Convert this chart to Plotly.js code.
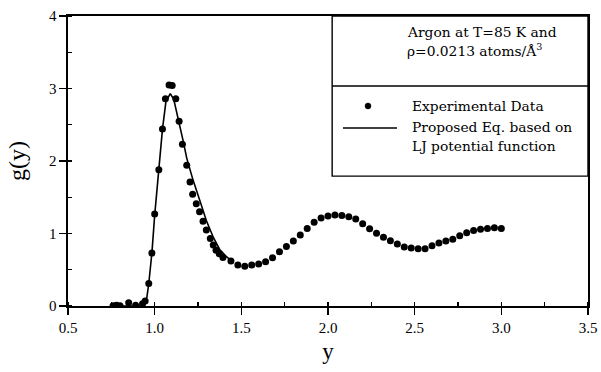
<!DOCTYPE html>
<html>
<head>
<meta charset="utf-8">
<script src="https://cdn.plot.ly/plotly-3.0.1.min.js"></script>
<style>html,body{margin:0;padding:0;background:#fff;}#chart{width:601px;height:372px;}</style>
</head>
<body>
<div id="chart"></div>
<script>
const expX = [0.76, 0.78, 0.80, 0.85, 0.89, 0.93, 0.945, 0.966, 0.984, 1.00, 1.024, 1.045, 1.062, 1.083, 1.101, 1.122, 1.141, 1.160, 1.185, 1.204, 1.219, 1.240, 1.259, 1.279, 1.298, 1.321, 1.338, 1.354, 1.373, 1.394,
  1.44, 1.48, 1.52, 1.56, 1.60, 1.64, 1.68, 1.72, 1.76, 1.80, 1.84, 1.88, 1.92, 1.96, 2.00, 2.04, 2.08, 2.12, 2.16, 2.20,
  2.24, 2.28, 2.32, 2.36, 2.40, 2.44, 2.48, 2.52, 2.56, 2.60, 2.64, 2.68, 2.72, 2.76, 2.80, 2.84, 2.88, 2.92, 2.96, 3.00];
const expG = [0.005, 0.01, 0.005, 0.045, 0.01, 0.03, 0.07, 0.31, 0.73, 1.27, 1.88, 2.44, 2.86, 3.05, 3.04, 2.86, 2.55, 2.23, 1.94, 1.71, 1.54, 1.41, 1.30, 1.17, 1.05, 0.93, 0.84, 0.77, 0.72, 0.67,
  0.62, 0.565, 0.55, 0.565, 0.58, 0.61, 0.665, 0.75, 0.82, 0.895, 0.98, 1.07, 1.155, 1.215, 1.24, 1.255, 1.25, 1.23, 1.20, 1.135,
  1.065, 1.005, 0.95, 0.90, 0.855, 0.815, 0.80, 0.79, 0.79, 0.83, 0.87, 0.895, 0.92, 0.97, 1.01, 1.04, 1.06, 1.07, 1.08, 1.07];

// Proposed equation (LJ potential) curve
const eqX = [0.75, 0.92, 0.94, 0.955, 0.966, 0.984, 1.00, 1.022, 1.045, 1.065, 1.09, 1.11, 1.13, 1.145, 1.165, 1.185, 1.221, 1.26, 1.298, 1.337, 1.375, 1.414, 1.452];
const eqG = [0.0, 0.0, 0.03, 0.12, 0.31, 0.73, 1.25, 1.88, 2.44, 2.82, 2.93, 2.85, 2.65, 2.50, 2.27, 2.04, 1.74, 1.46, 1.18, 0.955, 0.78, 0.68, 0.61];

const xTicks = [0.5, 1.0, 1.5, 2.0, 2.5, 3.0, 3.5];
const xTickText = ["0.5", "1.0", "1.5", "2.0", "2.5", "3.0", "3.5"];
const yTicks = [0, 1, 2, 3, 4];
const yTickText = ["0", "1", "2", "3", "4"];

const legendTitle1 = "Argon at T=85 K and";
const legendTitle2 = "ρ=0.0213 atoms/Å<sup>3</sup>";
const legendItem1 = "Experimental Data";
const legendItem2a = "Proposed Eq. based on";
const legendItem2b = "LJ potential function";

const serif = "Liberation Serif, Times New Roman, serif";
const legFont = {family: "DejaVu Serif, serif", size: 13.8, color: "#000"};

const traces = [
  {x: eqX, y: eqG, mode: "lines", line: {color: "#000", width: 1.6}, name: "Proposed Eq.", showlegend: false, hoverinfo: "skip"},
  {x: expX, y: expG, mode: "markers", marker: {color: "#000", size: 7}, name: "Experimental Data", showlegend: false}
];

// legend box in paper coordinates
const bx0 = 0.508, bx1 = 1.0, by0 = 0.448, byDiv = 0.7586, by1 = 1.0;
const layout = {
  width: 601, height: 372,
  margin: {l: 68, r: 13, t: 16, b: 66},
  paper_bgcolor: "#fff", plot_bgcolor: "#fff",
  showlegend: false,
  font: {family: serif, color: "#000"},
  xaxis: {
    range: [0.5, 3.5], tickvals: xTicks, ticktext: xTickText,
    showgrid: false, zeroline: false, showline: true, mirror: true, linecolor: "#000", linewidth: 1.6,
    ticks: "outside", ticklen: 7, tickwidth: 1.4, tickcolor: "#000",
    tickfont: {family: serif, size: 15, color: "#000"},
    minor: {dtick: 0.25, tick0: 0.5, ticks: "inside", ticklen: 4, tickwidth: 1.2, tickcolor: "#000", showgrid: false},
    title: {text: "y", font: {family: serif, size: 23, color: "#000"}, standoff: 8}
  },
  yaxis: {
    range: [0, 4], tickvals: yTicks, ticktext: yTickText,
    showgrid: false, zeroline: false, showline: true, mirror: true, linecolor: "#000", linewidth: 1.6,
    ticks: "outside", ticklen: 7, tickwidth: 1.4, tickcolor: "#000",
    tickfont: {family: serif, size: 15, color: "#000"},
    minor: {dtick: 0.5, tick0: 0, ticks: "inside", ticklen: 4, tickwidth: 1.2, tickcolor: "#000", showgrid: false},
    title: {text: "g(y)", font: {family: serif, size: 24, color: "#000"}, standoff: 16}
  },
  shapes: [
    {type: "rect", xref: "paper", yref: "paper", x0: bx0, x1: bx1, y0: by0, y1: by1, line: {color: "#000", width: 1.4}, fillcolor: "rgba(0,0,0,0)"},
    {type: "line", xref: "paper", yref: "paper", x0: bx0, x1: bx1, y0: byDiv, y1: byDiv, line: {color: "#000", width: 1.4}},
    {type: "line", xref: "paper", yref: "paper", x0: (343 - 68) / 520, x1: (397 - 68) / 520, y0: (306 - 128) / 290, y1: (306 - 128) / 290, line: {color: "#000", width: 1.6}},
    {type: "circle", xref: "paper", yref: "paper", x0: (368 - 68 - 3) / 520, x1: (368 - 68 + 3) / 520, y0: (306 - 106 - 3) / 290, y1: (306 - 106 + 3) / 290, line: {color: "#000", width: 0.5}, fillcolor: "#000"}
  ],
  annotations: [
    {text: legendTitle1, xref: "paper", yref: "paper", x: (405 - 68) / 520, y: (306 - 32) / 290, xanchor: "left", yanchor: "middle", showarrow: false, font: legFont},
    {text: legendTitle2, xref: "paper", yref: "paper", x: (405 - 68) / 520, y: (306 - 50) / 290, xanchor: "left", yanchor: "middle", showarrow: false, font: legFont},
    {text: legendItem1, xref: "paper", yref: "paper", x: (410 - 68) / 520, y: (306 - 106) / 290, xanchor: "left", yanchor: "middle", showarrow: false, font: legFont},
    {text: legendItem2a, xref: "paper", yref: "paper", x: (410 - 68) / 520, y: (306 - 127) / 290, xanchor: "left", yanchor: "middle", showarrow: false, font: legFont},
    {text: legendItem2b, xref: "paper", yref: "paper", x: (410 - 68) / 520, y: (306 - 146) / 290, xanchor: "left", yanchor: "middle", showarrow: false, font: legFont}
  ]
};

Plotly.newPlot("chart", traces, layout, {displayModeBar: false, staticPlot: true});
</script>
</body>
</html>
